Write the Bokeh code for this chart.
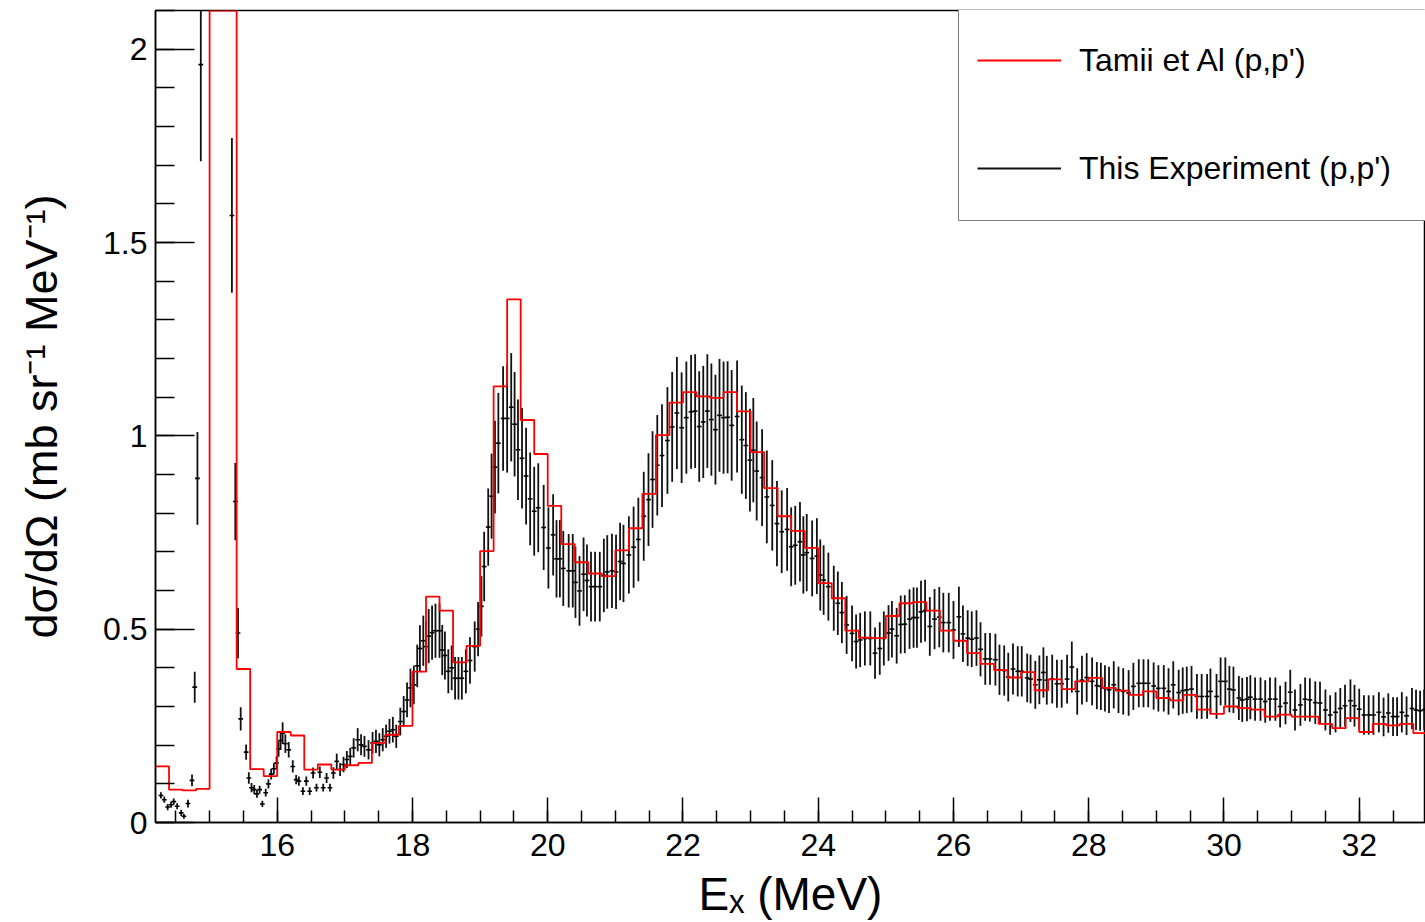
import numpy as np
from bokeh.plotting import figure
from bokeh.models import (Range1d, SingleIntervalTicker, CustomJSTickFormatter, Legend,
                          LegendItem, ColumnDataSource)
from bokeh.embed import file_html
from bokeh.resources import INLINE

# ---------------- data ----------------
# Tamii et al (p,p') histogram: 0.2 MeV bins starting at 14.2 MeV
tamii_first_edge = 14.2
tamii_bin_width = 0.2
# bins 15.0-15.4 are off scale (elastic peak), drawn clipped at the top of the frame
tamii_values = [0.145, 0.085, 0.083, 0.087, 2.5, 2.5, 0.397, 0.138, 0.12, 0.234,
                0.225, 0.137, 0.15, 0.137, 0.148, 0.154, 0.206, 0.227, 0.25, 0.39,
                0.584, 0.548, 0.414, 0.457, 0.702, 1.128, 1.353, 1.041, 0.953, 0.819,
                0.72, 0.673, 0.644, 0.637, 0.704, 0.761, 0.85, 1.002, 1.086, 1.113,
                1.102, 1.098, 1.113, 1.063, 0.958, 0.865, 0.792, 0.754, 0.71, 0.619,
                0.58, 0.496, 0.478, 0.477, 0.534, 0.567, 0.57, 0.548, 0.496, 0.47,
                0.438, 0.41, 0.394, 0.375, 0.389, 0.342, 0.37, 0.345, 0.365, 0.374,
                0.348, 0.341, 0.33, 0.339, 0.322, 0.316, 0.33, 0.292, 0.281, 0.3,
                0.296, 0.292, 0.274, 0.279, 0.274, 0.274, 0.255, 0.244, 0.27, 0.234,
                0.255, 0.251, 0.255, 0.231]

# This experiment: (Ex [MeV], cross section, error)
exp_ex = [14.28, 14.33, 14.38, 14.43, 14.47, 14.52, 14.58, 14.62, 14.68, 14.74, 14.78, 14.82, 14.87,
          15.33, 15.38, 15.42, 15.46, 15.54, 15.58, 15.62, 15.66, 15.70, 15.74, 15.78, 15.83, 15.87,
          15.91, 15.95, 15.99,
          16.02, 16.05, 16.08, 16.12, 16.17, 16.23, 16.28, 16.32, 16.38, 16.43, 16.48, 16.53, 16.58,
          16.63, 16.68, 16.73, 16.78, 16.83, 16.88, 16.93, 16.98, 17.03, 17.08, 17.13, 17.19, 17.24,
          17.29, 17.35, 17.41, 17.46, 17.51,
          17.56, 17.61, 17.66, 17.71, 17.76, 17.82, 17.87, 17.92, 17.97, 18.02, 18.07, 18.11, 18.16,
          18.20, 18.24, 18.29, 18.34, 18.40, 18.44, 18.48, 18.53, 18.58, 18.63, 18.68, 18.73, 18.79,
          18.85, 18.92, 18.97, 19.02, 19.06, 19.12, 19.17, 19.22, 19.27, 19.34, 19.40, 19.46, 19.51,
          19.56, 19.62, 19.68, 19.74, 19.80, 19.86, 19.94, 20.01, 20.08, 20.13, 20.18, 20.23, 20.31,
          20.37, 20.41, 20.47, 20.53, 20.58, 20.64, 20.70, 20.77, 20.83, 20.88, 20.95, 21.01, 21.07,
          21.12, 21.20, 21.27, 21.34, 21.42, 21.49, 21.55, 21.62, 21.69, 21.77, 21.84, 21.91, 21.98,
          22.05, 22.12, 22.18, 22.24, 22.30, 22.36, 22.42, 22.48, 22.54, 22.60, 22.66, 22.72, 22.80,
          22.87, 22.93, 22.99, 23.04, 23.09, 23.17, 23.24, 23.32, 23.39, 23.46, 23.54, 23.60, 23.66,
          23.73, 23.78, 23.83, 23.91, 23.98, 24.03, 24.08, 24.15, 24.23, 24.29, 24.35, 24.42, 24.50,
          24.56, 24.62, 24.69, 24.77, 24.84, 24.91, 24.97, 25.04, 25.09, 25.16, 25.22, 25.28, 25.35,
          25.41, 25.46, 25.52, 25.58, 25.65, 25.72, 25.79, 25.85, 25.93, 26.00, 26.08, 26.14, 26.21,
          26.27, 26.34, 26.40, 26.47, 26.54, 26.62, 26.68, 26.75, 26.81, 26.88, 26.95, 27.01, 27.09,
          27.14, 27.21, 27.27, 27.33, 27.38, 27.46, 27.53, 27.60, 27.68, 27.75, 27.83, 27.90, 27.97,
          28.05, 28.12, 28.18, 28.24, 28.30, 28.37, 28.44, 28.51, 28.59, 28.66, 28.74, 28.81, 28.88,
          28.96, 29.03, 29.11, 29.18, 29.25, 29.33, 29.39, 29.45, 29.52, 29.60, 29.67, 29.75, 29.80,
          29.89, 29.95, 30.02, 30.08, 30.14, 30.22, 30.27, 30.34, 30.39, 30.46, 30.54, 30.61, 30.68,
          30.76, 30.83, 30.91, 30.98, 31.05, 31.13, 31.20, 31.27, 31.35, 31.42, 31.50, 31.57, 31.65,
          31.72, 31.79, 31.87, 31.93, 32.00, 32.07, 32.14, 32.21, 32.29, 32.36, 32.43, 32.50, 32.56,
          32.63, 32.70, 32.78, 32.84, 32.90, 32.96]

exp_xs = [0.070, 0.059, 0.040, 0.046, 0.054, 0.042, 0.025, 0.016, 0.049, 0.109, 0.350, 0.890, 1.960,
          1.570, 0.830, 0.490, 0.268, 0.182, 0.115, 0.090, 0.085, 0.074, 0.085, 0.048, 0.077, 0.100,
          0.125, 0.139, 0.154,
          0.190, 0.212, 0.231, 0.204, 0.188, 0.145, 0.111, 0.107, 0.081, 0.107, 0.081, 0.128, 0.090,
          0.130, 0.090, 0.115, 0.090, 0.128, 0.158, 0.137, 0.150, 0.163, 0.171, 0.193, 0.214, 0.201,
          0.197, 0.188, 0.206, 0.210, 0.201,
          0.214, 0.223, 0.236, 0.240, 0.223, 0.261, 0.287, 0.317, 0.348, 0.356, 0.405, 0.450, 0.470,
          0.455, 0.482, 0.491, 0.496, 0.496, 0.446, 0.432, 0.391, 0.400, 0.373, 0.373, 0.373, 0.391,
          0.419, 0.455, 0.500, 0.559, 0.662, 0.764, 0.844, 0.919, 0.981, 1.045, 1.045, 1.074, 1.030,
          0.964, 0.942, 0.896, 0.837, 0.805, 0.814, 0.763, 0.710, 0.744, 0.682, 0.682, 0.657, 0.651,
          0.651, 0.621, 0.599, 0.642, 0.626, 0.610, 0.610, 0.610, 0.639, 0.648, 0.651, 0.648, 0.675,
          0.670, 0.692, 0.712, 0.732, 0.792, 0.835, 0.887, 0.924, 0.949, 0.988, 1.023, 1.059, 1.021,
          1.047, 1.062, 1.064, 1.024, 1.036, 1.064, 1.042, 1.016, 1.053, 1.047, 1.048, 1.027, 1.050,
          0.990, 0.975, 0.937, 0.963, 0.909, 0.892, 0.842, 0.820, 0.773, 0.752, 0.758, 0.713, 0.717,
          0.726, 0.692, 0.698, 0.683, 0.689, 0.640, 0.627, 0.610, 0.580, 0.567, 0.543, 0.511, 0.489,
          0.468, 0.472, 0.476, 0.476, 0.438, 0.450, 0.476, 0.490, 0.500, 0.483, 0.512, 0.513, 0.526,
          0.530, 0.530, 0.545, 0.548, 0.507, 0.526, 0.531, 0.517, 0.517, 0.498, 0.532, 0.488, 0.477,
          0.474, 0.477, 0.448, 0.423, 0.423, 0.421, 0.395, 0.393, 0.376, 0.397, 0.391, 0.391, 0.374,
          0.371, 0.356, 0.369, 0.388, 0.368, 0.371, 0.359, 0.359, 0.371, 0.402, 0.339, 0.368, 0.375,
          0.365, 0.354, 0.352, 0.347, 0.343, 0.356, 0.343, 0.339, 0.335, 0.352, 0.360, 0.360, 0.360,
          0.353, 0.347, 0.347, 0.339, 0.356, 0.336, 0.341, 0.343, 0.345, 0.326, 0.326, 0.326, 0.339,
          0.326, 0.365, 0.365, 0.345, 0.343, 0.322, 0.317, 0.319, 0.324, 0.319, 0.319, 0.313, 0.319,
          0.319, 0.300, 0.309, 0.337, 0.291, 0.304, 0.319, 0.317, 0.310, 0.309, 0.291, 0.278, 0.285,
          0.295, 0.302, 0.315, 0.302, 0.293, 0.278, 0.278, 0.278, 0.285, 0.273, 0.283, 0.274, 0.274,
          0.285, 0.276, 0.295, 0.291, 0.289, 0.292]

exp_err = [0.008, 0.008, 0.008, 0.008, 0.008, 0.008, 0.008, 0.006, 0.010, 0.015, 0.040, 0.120, 0.250,
           0.200, 0.100, 0.065, 0.030, 0.020, 0.015, 0.012, 0.012, 0.010, 0.010, 0.008, 0.010, 0.012,
           0.014, 0.015, 0.017,
           0.020, 0.024, 0.028, 0.024, 0.020, 0.016, 0.012, 0.012, 0.010, 0.012, 0.010, 0.014, 0.010,
           0.015, 0.010, 0.013, 0.010, 0.015, 0.020, 0.017, 0.020, 0.022, 0.022, 0.025, 0.030, 0.027,
           0.027, 0.025, 0.028, 0.030, 0.030,
           0.030, 0.030, 0.032, 0.033, 0.030, 0.036, 0.040, 0.045, 0.050, 0.050, 0.055, 0.060, 0.065,
           0.065, 0.070, 0.070, 0.070, 0.070, 0.065, 0.062, 0.057, 0.058, 0.055, 0.055, 0.055, 0.057,
           0.060, 0.065, 0.070, 0.078, 0.090, 0.100, 0.110, 0.120, 0.130, 0.135, 0.140, 0.140, 0.135,
           0.130, 0.130, 0.125, 0.120, 0.115, 0.115, 0.110, 0.105, 0.105, 0.100, 0.100, 0.097, 0.095,
           0.095, 0.092, 0.090, 0.095, 0.093, 0.090, 0.090, 0.090, 0.095, 0.095, 0.096, 0.096, 0.100,
           0.100, 0.100, 0.105, 0.108, 0.115, 0.120, 0.125, 0.130, 0.133, 0.138, 0.142, 0.145, 0.143,
           0.145, 0.147, 0.147, 0.143, 0.145, 0.147, 0.145, 0.142, 0.146, 0.145, 0.145, 0.143, 0.145,
           0.140, 0.138, 0.133, 0.135, 0.128, 0.125, 0.120, 0.117, 0.110, 0.107, 0.107, 0.102, 0.102,
           0.103, 0.100, 0.100, 0.098, 0.098, 0.092, 0.090, 0.088, 0.084, 0.082, 0.079, 0.075, 0.072,
           0.070, 0.070, 0.070, 0.070, 0.066, 0.068, 0.070, 0.072, 0.073, 0.072, 0.075, 0.075, 0.077,
           0.078, 0.078, 0.080, 0.080, 0.076, 0.078, 0.078, 0.077, 0.077, 0.075, 0.078, 0.073, 0.072,
           0.072, 0.072, 0.070, 0.067, 0.067, 0.067, 0.065, 0.065, 0.063, 0.066, 0.065, 0.065, 0.063,
           0.063, 0.062, 0.063, 0.065, 0.063, 0.063, 0.062, 0.062, 0.063, 0.066, 0.060, 0.063, 0.063,
           0.062, 0.061, 0.061, 0.060, 0.060, 0.061, 0.060, 0.060, 0.059, 0.061, 0.062, 0.062, 0.062,
           0.061, 0.060, 0.060, 0.060, 0.061, 0.059, 0.060, 0.060, 0.060, 0.058, 0.058, 0.058, 0.059,
           0.058, 0.062, 0.062, 0.060, 0.060, 0.057, 0.057, 0.057, 0.057, 0.056, 0.056, 0.055, 0.056,
           0.056, 0.054, 0.055, 0.058, 0.053, 0.054, 0.056, 0.056, 0.055, 0.055, 0.053, 0.051, 0.052,
           0.053, 0.054, 0.055, 0.054, 0.053, 0.051, 0.051, 0.051, 0.052, 0.050, 0.051, 0.050, 0.050,
           0.052, 0.050, 0.053, 0.052, 0.052, 0.052]

x_title = "Eₓ (MeV)"
y_title = "dσ/dΩ (mb sr⁻¹ MeV⁻¹)"
legend_labels = ["Tamii et Al (p,p')", "This Experiment (p,p')"]

X_MIN, X_MAX = 14.2, 32.98
Y_MIN, Y_MAX = 0.0, 2.1
FONT = "Liberation Sans"

# ---------------- figure ----------------
p = figure(width=1425, height=922, x_range=Range1d(X_MIN, X_MAX), y_range=Range1d(Y_MIN, Y_MAX),
           output_backend="svg", toolbar_location=None,
           min_border_left=155, min_border_right=0, min_border_top=10, min_border_bottom=99)
p.grid.visible = False
p.outline_line_color = "black"
p.outline_line_width = 1.5
p.background_fill_color = "white"
p.border_fill_color = "white"

# experimental data with error bars
ex = np.array(exp_ex)
xs = np.array(exp_xs)
er = np.array(exp_err)
hw = 0.035
src = ColumnDataSource(dict(x=ex, y=xs, lo=xs - er, hi=xs + er, xl=ex - hw, xr=ex + hw))
bars = p.segment(x0="x", y0="lo", x1="x", y1="hi", source=src, line_color="#111111", line_width=1.8)
p.segment(x0="xl", y0="y", x1="xr", y1="y", source=src, line_color="#000000", line_width=1.6)

# Tamii histogram (drawn clipped to the frame top, like ROOT)
tv = np.array(tamii_values)
edges = tamii_first_edge + tamii_bin_width * np.arange(len(tv) + 1)
tv_draw = np.minimum(tv, Y_MAX)
red = p.step(x=edges, y=np.append(tv_draw, tv_draw[-1]), mode="after",
             line_color="#ff0000", line_width=1.8)

# axes
p.xaxis.ticker = SingleIntervalTicker(interval=2, num_minor_ticks=4)
p.yaxis.ticker = SingleIntervalTicker(interval=0.5, num_minor_ticks=5)
p.yaxis.formatter = CustomJSTickFormatter(code="return String(Math.round(tick*10)/10);")
for ax in (p.xaxis[0], p.yaxis[0]):
    ax.major_tick_out = 0
    ax.minor_tick_out = 0
    ax.axis_line_width = 1.5
    ax.major_tick_line_width = 1.5
    ax.minor_tick_line_width = 1.5
    ax.axis_line_color = "black"
    ax.major_tick_line_color = "black"
    ax.minor_tick_line_color = "black"
    ax.major_label_text_font = FONT
    ax.major_label_text_font_size = "32px"
    ax.major_label_text_color = "black"
    ax.axis_label_text_font = FONT
    ax.axis_label_text_font_style = "normal"
    ax.axis_label_text_color = "black"
p.yaxis.major_tick_in = 39
p.yaxis.minor_tick_in = 19
p.xaxis.major_tick_in = 25
p.xaxis.minor_tick_in = 12
p.yaxis.major_label_standoff = 8
p.xaxis.major_label_standoff = 11

p.xaxis.axis_label = x_title
p.xaxis.axis_label_text_font_size = "46px"
p.xaxis.axis_label_standoff = 9
p.yaxis.axis_label = y_title
p.yaxis.axis_label_text_font_size = "45px"
p.yaxis.axis_label_standoff = 33

# legend
legend = Legend(items=[LegendItem(label=legend_labels[0], renderers=[red]),
                       LegendItem(label=legend_labels[1], renderers=[bars])],
                location=(803, 601), orientation="vertical")
legend.glyph_width = 84
legend.glyph_height = 20
legend.label_height = 68
legend.label_width = 360
legend.padding = 18
legend.spacing = 40
legend.margin = 0
legend.label_standoff = 18
legend.border_line_color = "black"
legend.border_line_width = 1.5
legend.background_fill_color = "white"
legend.background_fill_alpha = 1.0
legend.label_text_font = FONT
legend.label_text_font_size = "32px"
legend.label_text_color = "black"
p.add_layout(legend)

open("out.html", "w").write(file_html(p, INLINE))
